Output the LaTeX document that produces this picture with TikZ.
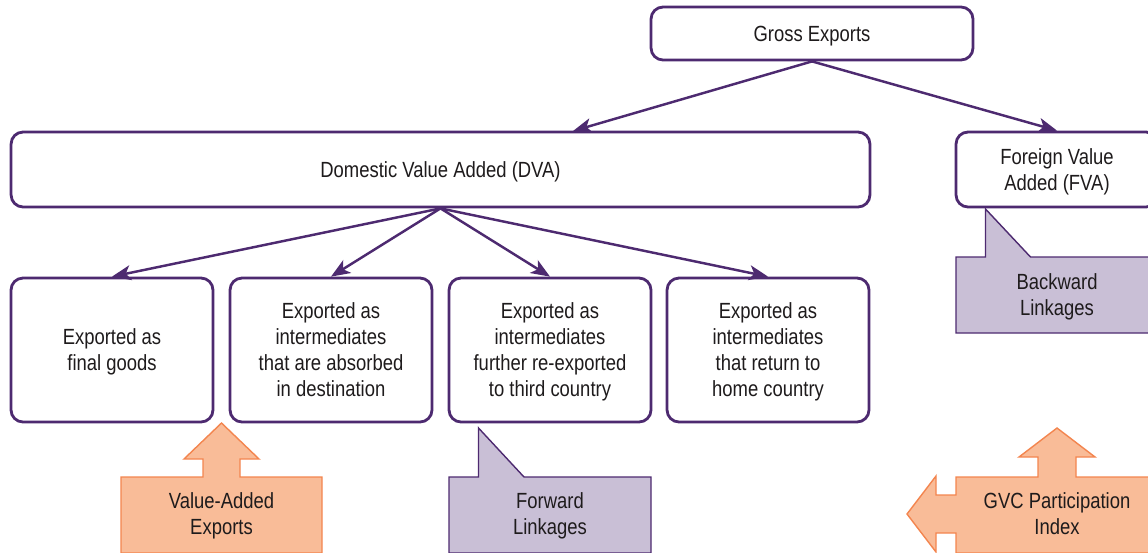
\documentclass[tikz,border=0pt]{standalone}
\usepackage{fontspec}
\setmainfont{Liberation Sans}[FakeStretch=0.84]
\usetikzlibrary{arrows.meta}

\definecolor{gvcpurple}{HTML}{4D2A70}
\definecolor{linkfill}{HTML}{C9BFD6}
\definecolor{vaorange}{HTML}{F3854F}
\definecolor{vafill}{HTML}{F9BC98}
\definecolor{txtgrey}{HTML}{1E1B1C}

\begin{document}
\begin{tikzpicture}[x=0.02cm, y=-0.02cm,
    box/.style={draw=gvcpurple, line width=1.6pt, rounded corners=0.24cm, fill=white,
      align=center, text=txtgrey, inner sep=0pt, text depth=0pt, font=\fontsize{12.5}{14.8}\selectfont},
    flow/.style={-{Stealth[length=0.38cm, width=0.3cm, inset=0.1cm]}, draw=gvcpurple, line width=1.4pt},
    calltext/.style={align=center, text=txtgrey, text depth=0pt, font=\fontsize{12.5}{14.8}\selectfont},
    linkshape/.style={draw=gvcpurple, fill=linkfill, line width=0.8pt},
    vashape/.style={draw=vaorange, fill=vafill, line width=0.8pt}]
  \useasboundingbox (0,0) rectangle (1148,552);

  % top of the tree
  \node[box, minimum width=6.44cm, minimum height=1.06cm] (gross) at (812,33.5) {Gross Exports};
  \node[box, minimum width=17.18cm, minimum height=1.5cm] (dva) at (440.5,169.5) {Domestic Value Added (DVA)};
  \node[box, minimum width=4.04cm, minimum height=1.5cm] (fva) at (1057,169.5) {Foreign Value\\Added (FVA)};

  % the four ways DVA leaves the country
  \node[box, minimum width=4.04cm, minimum height=2.88cm] (final) at (112,350) {Exported as\\final goods};
  \node[box, minimum width=4.04cm, minimum height=2.88cm] (absorbed) at (331,350) {Exported as\\intermediates\\that are absorbed\\in destination};
  \node[box, minimum width=4.04cm, minimum height=2.88cm] (reexport) at (550,350) {Exported as\\intermediates\\further re-exported\\to third country};
  \node[box, minimum width=4.04cm, minimum height=2.88cm] (return) at (768,350) {Exported as\\intermediates\\that return to\\home country};

  \coordinate (dvain) at (573,131);
  \draw[flow] (gross.south) -- (dvain);
  \draw[flow] (gross.south) -- (fva.north);
  \foreach \to in {final, absorbed, reexport, return}
    \draw[flow] (dva.south) -- (\to.north);

  % callouts
  \draw[vashape] (121,477) -- (203,477) -- (203,459) -- (184,459) -- (221.5,423) -- (259,459)
    -- (240,459) -- (240,477) -- (322,477) -- (322,553) -- (121,553) -- cycle;
  \node[calltext] (vae) at (221.5,514) {Value-Added\\Exports};

  \draw[linkshape] (449,477) -- (478.5,477) -- (478.5,428) -- (524,477) -- (651,477)
    -- (651,553) -- (449,553) -- cycle;
  \node[calltext] (fwd) at (550,514) {Forward\\Linkages};

  \draw[linkshape] (956,257) -- (985.5,257) -- (985.5,209) -- (1030.5,257) -- (1160,257)
    -- (1160,333) -- (956,333) -- cycle;
  \node[calltext] (bwd) at (1057,295) {Backward\\Linkages};

  \draw[vashape] (956,477) -- (1038,477) -- (1038,457) -- (1019,457) -- (1057,428) -- (1095,457)
    -- (1076,457) -- (1076,477) -- (1160,477) -- (1160,553) -- (956,553) -- (956,533)
    -- (936,533) -- (936,552) -- (907,514) -- (936,476) -- (936,495) -- (956,495) -- cycle;
  \node[calltext] (gvc) at (1057,514) {GVC Participation\\Index};
\end{tikzpicture}
\end{document}
